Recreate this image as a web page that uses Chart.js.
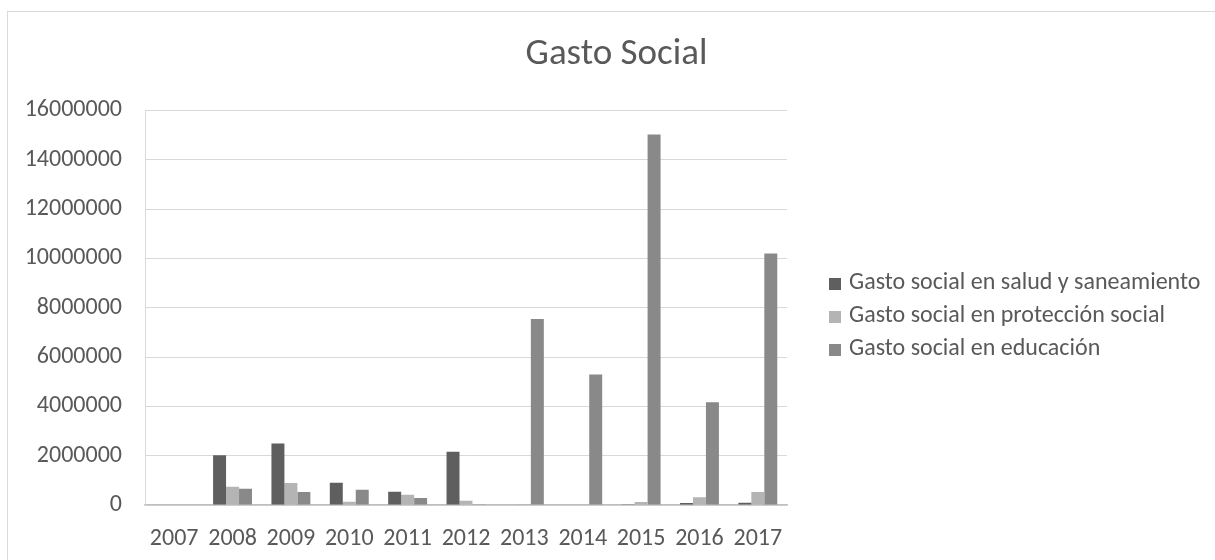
<!DOCTYPE html>
<html>
<head>
<meta charset="utf-8">
<script src="https://cdn.jsdelivr.net/npm/chart.js@4.4.1/dist/chart.umd.min.js"></script>
<style>
  html, body { margin: 0; padding: 0; background: #fff; overflow: hidden; }
  #wrap { position: relative; width: 1215px; height: 560px; }
  #frame { position: absolute; left: 7px; top: 11px; width: 1300px; height: 700px; border: 1px solid #d9d9d9; box-sizing: border-box; }
  canvas { position: absolute; left: 0; top: 0; }
  #legend { position: absolute; left: 829px; top: 264px; font-family: Carlito, Lato, sans-serif; font-size: 24px; color: #595959; }
  #legend .item { height: 33px; line-height: 33px; white-space: nowrap; }
  #legend .box { display: inline-block; width: 12px; height: 12px; margin-right: 8px; vertical-align: -1px; }
</style>
</head>
<body>
<div id="wrap">
  <div id="frame"></div>
  <canvas id="chart" width="1215" height="560"></canvas>
  <div id="legend"></div>
</div>
<script>
const years = ["2007", "2008", "2009", "2010", "2011", "2012", "2013", "2014", "2015", "2016", "2017"];
const salud = [0, 2020000, 2490000, 900000, 540000, 2160000, 0, 0, 10000, 80000, 90000];
const proteccion = [0, 740000, 890000, 130000, 420000, 175000, 40000, 20000, 120000, 310000, 525000];
const educacion = [0, 660000, 525000, 620000, 285000, 10000, 7540000, 5290000, 15020000, 4170000, 10200000];
const seriesNames = ["Gasto social en salud y saneamiento", "Gasto social en protección social", "Gasto social en educación"];
const seriesColors = ["#5f5f5f", "#b4b4b4", "#898989"];

const FONT = "Carlito, Lato, sans-serif";
const TEXT = "#595959";

const chart = new Chart(document.getElementById("chart"), {
  type: "bar",
  data: {
    labels: years,
    datasets: [
      { label: seriesNames[0], data: salud, backgroundColor: seriesColors[0] },
      { label: seriesNames[1], data: proteccion, backgroundColor: seriesColors[1] },
      { label: seriesNames[2], data: educacion, backgroundColor: seriesColors[2] },
    ],
  },
  options: {
    responsive: false,
    animation: false,
    layout: { padding: { left: 18, right: 0, top: 0, bottom: 0 } },
    datasets: { bar: { barPercentage: 1, categoryPercentage: 0.667 } },
    scales: {
      x: {
        grid: { display: false, drawTicks: false },
        border: { color: "#bfbfbf", width: 1.5 },
        ticks: { color: TEXT, font: { family: FONT, size: 24 }, padding: 20 },
        afterFit: (s) => { s.height = 55; },
      },
      y: {
        min: 0,
        max: 16000000,
        grid: { color: "#d9d9d9", drawTicks: false },
        border: { color: "#d9d9d9" },
        ticks: { stepSize: 2000000, color: TEXT, font: { family: FONT, size: 24 }, padding: 23, callback: (v) => String(v) },
        afterFit: (s) => { s.width = 127; },
      },
      // empty space on the right, where the legend sits
      gap: {
        type: "linear",
        position: "right",
        display: true,
        grid: { display: false, drawTicks: false },
        border: { display: false },
        ticks: { display: false },
        afterFit: (s) => { s.width = 428; },
      },
    },
    plugins: {
      title: {
        display: true,
        text: "Gasto Social",
        color: TEXT,
        font: { family: FONT, size: 37, weight: "normal" },
        padding: { top: 33, bottom: 33 },
      },
      legend: { display: false },
      tooltip: { enabled: false },
    },
  },
});

// legend built from the chart's datasets
const legendEl = document.getElementById("legend");
chart.data.datasets.forEach((ds) => {
  const row = document.createElement("div");
  row.className = "item";
  const box = document.createElement("span");
  box.className = "box";
  box.style.background = ds.backgroundColor;
  row.appendChild(box);
  row.appendChild(document.createTextNode(ds.label));
  legendEl.appendChild(row);
});
</script>
</body>
</html>
